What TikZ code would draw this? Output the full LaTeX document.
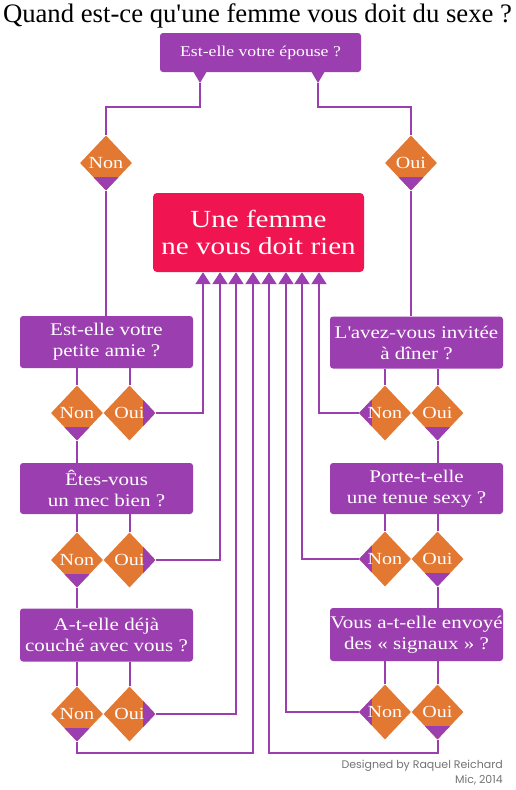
\documentclass[tikz,border=0pt]{standalone}
\usepackage{fontspec}
\setmainfont{Liberation Serif}[FakeStretch=1.18]
\newfontfamily\titlefont{Liberation Serif}
\newfontfamily\credfont{Poppins}
\usetikzlibrary{arrows.meta,shapes.geometric,calc}
\definecolor{purp}{RGB}{155,62,175}
\definecolor{orng}{RGB}{226,120,50}
\definecolor{crim}{RGB}{240,20,80}
\definecolor{credgray}{RGB}{115,115,115}
\begin{document}
\begin{tikzpicture}[x=1pt,y=-1pt,
  qbox/.style={fill=purp, rounded corners=3pt, text=white, align=center, inner sep=0pt,
    minimum width=173pt, font=\fontsize{17.8}{21}\selectfont},
  dia/.style={diamond, fill=orng, minimum width=52pt, minimum height=55pt, inner sep=0pt,
    text=white, font=\fontsize{17}{17}\selectfont},
  tipS/.style={path picture={\fill[purp] ([yshift=-14pt]path picture bounding box.west) rectangle (path picture bounding box.south east);}},
  tipE/.style={path picture={\fill[purp] ([xshift=13pt]path picture bounding box.north) rectangle (path picture bounding box.south east);}},
  tipW/.style={path picture={\fill[purp] ([xshift=-13pt]path picture bounding box.north) rectangle (path picture bounding box.south west);}},
  ln/.style={draw=purp, line width=2pt},
  arr/.style={ln, -{Triangle[width=15pt,length=12pt]}},
]
\useasboundingbox (0,0) rectangle (516,790);
% title
\node[anchor=base, inner sep=0pt, font=\titlefont\fontsize{26.7}{26.7}\selectfont] (title) at (257.5,22) {Quand est-ce qu\textquotesingle une femme vous doit du sexe ?};
% top question
\node[fill=purp, rounded corners=3pt, text=white, inner sep=0pt, minimum width=201pt, minimum height=39pt,
  font=\fontsize{15}{18}\selectfont] (top) at (260.5,52.5) {Est-elle votre épouse ?};
\coordinate (tabL) at (200,83);
\coordinate (tabR) at (318,83);
\fill[purp] (193,71) -- (207,71) -- (tabL) -- cycle;
\fill[purp] (311,71) -- (325,71) -- (tabR) -- cycle;
\coordinate (jL) at (200,107);
\coordinate (jR) at (318,107);
% result
\node[fill=crim, rounded corners=4pt, text=white, align=center, inner sep=0pt, minimum width=211pt,
  minimum height=79pt, font=\fontsize{24.6}{27}\selectfont] (red) at (258.5,232.5) {Une femme\\ne vous doit rien};
% top diamonds
\node[dia,tipS] (TNon) at (106,163) {Non};
\node[dia,tipS] (TOui) at (411,163) {Oui};
% left column
\node[qbox, minimum height=52pt] (L1) at (106.5,342) {Est-elle votre\\petite amie ?};
\node[qbox, minimum height=51pt] (L2) at (106.5,488.5) {Êtes-vous\\un mec bien ?};
\node[qbox, minimum height=53pt] (L3) at (106.5,635) {A-t-elle déjà\\couché avec vous ?};
\node[dia,tipS] (L1n) at (77,413) {Non};
\node[dia,tipE] (L1o) at (129.5,413) {Oui};
\node[dia,tipS] (L2n) at (77,560) {Non};
\node[dia,tipE] (L2o) at (129.5,560) {Oui};
\node[dia,tipS] (L3n) at (77,714) {Non};
\node[dia,tipE] (L3o) at (129.5,714) {Oui};
% right column
\node[qbox, minimum height=52pt] (R1) at (416.5,342.5) {L\textquotesingle avez-vous invitée\\à dîner ?};
\node[qbox, minimum height=51pt] (R2) at (416.5,488.5) {Porte-t-elle\\une tenue sexy ?};
\node[qbox, minimum height=53pt] (R3) at (416.5,634.5) {Vous a-t-elle envoyé\\des « signaux » ?};
\node[dia,tipW] (R1n) at (385,413) {Non};
\node[dia,tipS] (R1o) at (437.5,413) {Oui};
\node[dia,tipW] (R2n) at (385,559) {Non};
\node[dia,tipS] (R2o) at (437.5,559) {Oui};
\node[dia,tipW] (R3n) at (385,712) {Non};
\node[dia,tipS] (R3o) at (437.5,712) {Oui};
% arrow columns
\coordinate (x1) at (203,0);
\coordinate (x2) at (220,0);
\coordinate (x3) at (236,0);
\coordinate (x4) at (253,0);
\coordinate (x5) at (269,0);
\coordinate (x6) at (286,0);
\coordinate (x7) at (302,0);
\coordinate (x8) at (319,0);
\coordinate (bL) at (253,753);
\coordinate (bR) at (269,753);
% top connectors
\draw[ln] (tabL) -- (jL) -| (TNon.north);
\draw[ln] (tabR) -- (jR) -| (TOui.north);
\draw[ln] (TNon.south) -- (TNon.south |- L1.north);
\draw[ln] (TOui.south) -- (TOui.south |- R1.north);
% left connectors
\draw[ln] (L1n.north |- L1.south) -- (L1n.north);
\draw[ln] (L1o.north |- L1.south) -- (L1o.north);
\draw[ln] (L1n.south) -- (L1n.south |- L2.north);
\draw[ln] (L2n.north |- L2.south) -- (L2n.north);
\draw[ln] (L2o.north |- L2.south) -- (L2o.north);
\draw[ln] (L2n.south) -- (L2n.south |- L3.north);
\draw[ln] (L3n.north |- L3.south) -- (L3n.north);
\draw[ln] (L3o.north |- L3.south) -- (L3o.north);
\draw[arr] (L1o.east) -| (red.south -| x1);
\draw[arr] (L2o.east) -| (red.south -| x2);
\draw[arr] (L3o.east) -| (red.south -| x3);
\draw[arr] (L3n.south) |- (bL) -- (red.south -| x4);
% right connectors
\draw[ln] (R1n.north |- R1.south) -- (R1n.north);
\draw[ln] (R1o.north |- R1.south) -- (R1o.north);
\draw[ln] (R1o.south) -- (R1o.south |- R2.north);
\draw[ln] (R2n.north |- R2.south) -- (R2n.north);
\draw[ln] (R2o.north |- R2.south) -- (R2o.north);
\draw[ln] (R2o.south) -- (R2o.south |- R3.north);
\draw[ln] (R3n.north |- R3.south) -- (R3n.north);
\draw[ln] (R3o.north |- R3.south) -- (R3o.north);
\draw[arr] (R1n.west) -| (red.south -| x8);
\draw[arr] (R2n.west) -| (red.south -| x7);
\draw[arr] (R3n.west) -| (red.south -| x6);
\draw[arr] (R3o.south) |- (bR) -- (red.south -| x5);
% credits
\node[anchor=base east, inner sep=0pt, text=credgray, font=\credfont\fontsize{11}{11}\selectfont] (c1) at (503,768) {Designed by Raquel Reichard};
\node[anchor=base east, inner sep=0pt, text=credgray, font=\credfont\fontsize{11}{11}\selectfont] (c2) at (503,783) {Mic, 2014};
\end{tikzpicture}
\end{document}
